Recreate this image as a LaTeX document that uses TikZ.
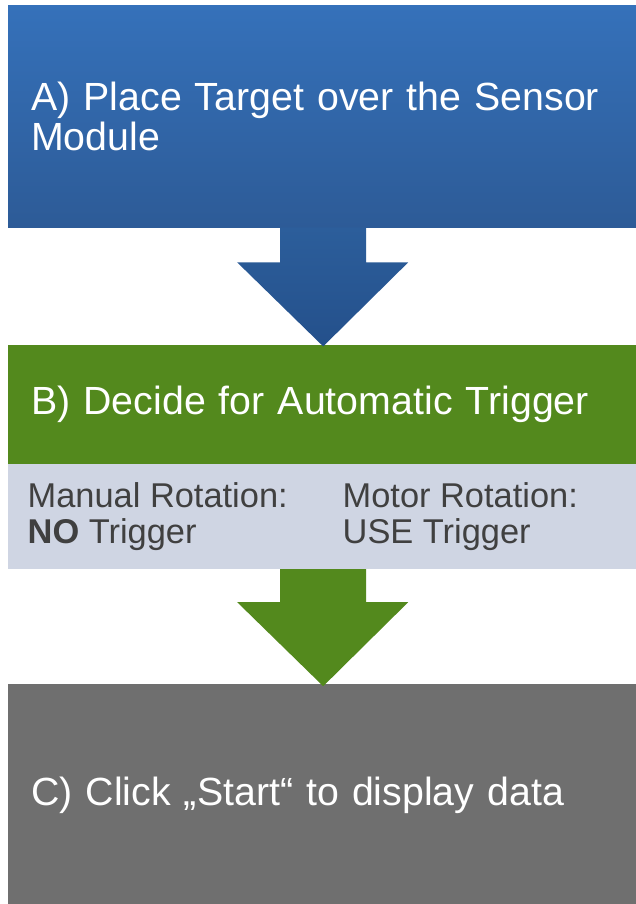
\documentclass[tikz,border=0pt]{standalone}
\usepackage{fontspec}
\setmainfont{Liberation Sans}
\usepackage{xcolor}
\usetikzlibrary{calc, positioning}

\definecolor{placetop}{HTML}{3571BA}
\definecolor{placebot}{HTML}{2D5B97}
\definecolor{arrowtop}{HTML}{2C5E9B}
\definecolor{arrowbot}{HTML}{24508B}
\definecolor{decidegreen}{HTML}{53891D}
\definecolor{choicegray}{HTML}{CFD5E3}
\definecolor{startgray}{HTML}{6F6F6F}
\definecolor{notetext}{HTML}{404040}

\begin{document}
\begin{tikzpicture}[
    x=1pt, y=1pt,
    stepbox/.style={rectangle, minimum width=628pt, text width=582pt, inner xsep=23pt, inner ysep=0pt, align=left, text=white, font=\fontsize{39.3}{40}\selectfont},
    choicebox/.style={rectangle, fill=choicegray, minimum width=628pt, minimum height=105pt, inner sep=0pt},
    notetext/.style={inner sep=0pt, align=left, text=notetext, font=\fontsize{34.4}{36}\selectfont},
    flowarrow/.style={top color=arrowtop, bottom color=arrowbot},
]
\useasboundingbox (0,0) rectangle (636,904);

% Boxes
\node[stepbox, top color=placetop, bottom color=placebot, minimum height=222pt, anchor=north west] (place) at (8,899) {A) Place Target over the Sensor\\Module};
\node[stepbox, fill=decidegreen, minimum height=119pt, below=117pt of place] (decide) {B) Decide for Automatic Trigger};
\node[choicebox, below=0pt of decide] (choice) {};
\node[notetext, anchor=west] (manual) at ($(choice.west)+(19.5,0)$) {Manual Rotation:\\\textbf{NO} Trigger};
\node[notetext, anchor=west] (motor) at ($(choice.west)+(334.5,0)$) {Motor Rotation:\\USE Trigger};
\node[stepbox, fill=startgray, minimum height=221pt, below=115pt of choice] (start) {C) Click „Start“ to display data};

% Arrows
\shade[flowarrow] ($(place.south)+(-42,0)$) -- ++(0,-35) -- ++(-43,0) -- ($(decide.north)+(1,-2)$)
    -- ($(place.south)+(86,-35)$) -- ++(-42,0) -- ($(place.south)+(44,0)$) -- cycle;
\fill[decidegreen] ($(choice.south)+(-42,0)$) -- ++(0,-33) -- ++(-43,0) -- ($(start.north)+(1,-2)$)
    -- ($(choice.south)+(86,-33)$) -- ++(-42,0) -- ($(choice.south)+(44,0)$) -- cycle;

\end{tikzpicture}
\end{document}
